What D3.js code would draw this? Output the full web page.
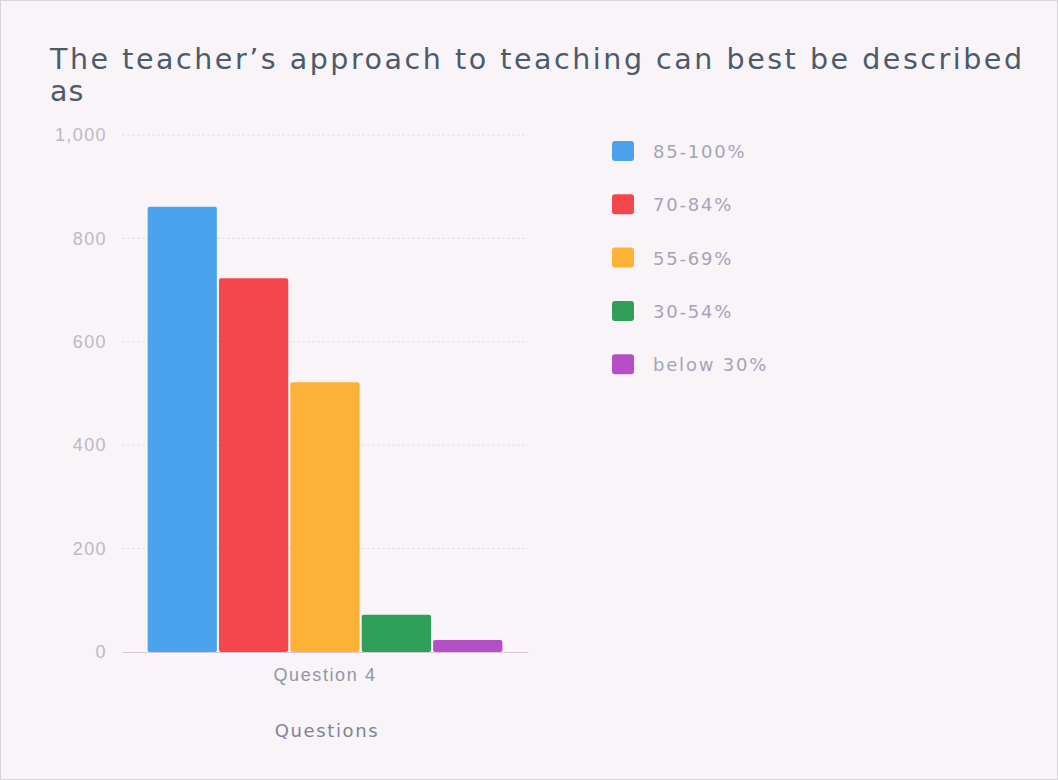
<!DOCTYPE html>
<html>
<head>
<meta charset="utf-8">
<script src="https://cdn.jsdelivr.net/npm/d3@7"></script>
<style>
  html, body { margin: 0; padding: 0; background: #f8f4f7; }
  svg { display: block; font-family: "DejaVu Sans", sans-serif; }
</style>
</head>
<body>
<div id="chart"></div>
<script>
const categories = ["Question 4"];
const seriesNames = ["85-100%", "70-84%", "55-69%", "30-54%", "below 30%"];
const seriesValues = [861, 723, 522, 72, 23];
const seriesColors = ["#4aa3ec", "#f4474d", "#fbb237", "#2f9f5a", "#b44fc6"];
const yTicks = [0, 200, 400, 600, 800, 1000];

const W = 1058, H = 780;
const margin = {top: 135, left: 122, right: 528, bottom: 652};

const svg = d3.select("#chart").append("svg")
  .attr("width", W).attr("height", H);

svg.append("rect")
  .attr("x", 0.5).attr("y", 0.5).attr("width", W - 1).attr("height", H - 1)
  .attr("fill", "#f8f4f7").attr("stroke", "#d9d4d8");

// title (two lines, as in the original)
svg.append("text")
  .attr("x", 50).attr("y", 69)
  .attr("fill", "#4d5a6c")
  .attr("textLength", 972).attr("lengthAdjust", "spacing")
  .style("font-size", "28.5px")
  .text("The teacher\u2019s approach to teaching can best be described");
svg.append("text")
  .attr("x", 50).attr("y", 101)
  .attr("fill", "#4d5a6c")
  .style("font-size", "28.5px")
  .style("letter-spacing", "1px")
  .text("as");

const y = d3.scaleLinear().domain([0, 1000]).range([margin.bottom, margin.top]);
const x0 = d3.scaleBand().domain(categories).range([margin.left, margin.right]).paddingInner(0.1).paddingOuter(0.065);
const x1 = d3.scaleBand().domain(seriesNames).range([0, x0.bandwidth()]).paddingInner(0.03);

// grid
svg.append("g")
  .selectAll("line")
  .data(yTicks.filter(d => d > 0))
  .join("line")
  .attr("x1", margin.left).attr("x2", margin.right)
  .attr("y1", d => y(d)).attr("y2", d => y(d))
  .attr("stroke", "#e4dfe4")
  .attr("stroke-dasharray", "3,2");

// y axis labels
const yAxis = svg.append("g")
  .attr("transform", `translate(${margin.left - 12},0)`)
  .call(d3.axisLeft(y).tickValues(yTicks).tickSize(0).tickFormat(d3.format(",")));
yAxis.select(".domain").remove();
yAxis.selectAll("text")
  .attr("fill", "#bdb9c4")
  .style("font-size", "18px")
  .style("letter-spacing", "1.4px");

// bars
svg.append("g")
  .selectAll("g")
  .data(categories)
  .join("g")
  .attr("transform", d => `translate(${x0(d)},0)`)
  .selectAll("rect")
  .data(() => seriesNames.map((s, i) => ({s, v: seriesValues[i], c: seriesColors[i]})))
  .join("rect")
  .attr("x", d => x1(d.s))
  .attr("y", d => y(d.v))
  .attr("width", x1.bandwidth())
  .attr("height", d => y(0) - y(d.v))
  .attr("rx", 2)
  .attr("fill", d => d.c);

// x axis
const xAxis = svg.append("g")
  .attr("transform", `translate(0,${margin.bottom})`)
  .call(d3.axisBottom(x0).tickSize(0).tickPadding(16));
xAxis.select(".domain").attr("stroke", "#d9c9d3");
xAxis.selectAll("text")
  .attr("fill", "#9296a8")
  .style("font-size", "18px")
  .style("letter-spacing", "1.6px");

svg.append("text")
  .attr("x", (margin.left + margin.right) / 2 + 2)
  .attr("y", 737)
  .attr("text-anchor", "middle")
  .attr("fill", "#7f8499")
  .style("font-size", "18px")
  .style("letter-spacing", "1.6px")
  .text("Questions");

// legend
const legend = svg.append("g")
  .selectAll("g")
  .data(seriesNames)
  .join("g")
  .attr("transform", (d, i) => `translate(612,${141 + i * 53.3})`);
legend.append("rect")
  .attr("width", 22).attr("height", 20).attr("rx", 3)
  .attr("fill", (d, i) => seriesColors[i]);
legend.append("text")
  .attr("x", 41).attr("y", 17)
  .attr("fill", "#a7a3b8")
  .style("font-size", "18px")
  .style("letter-spacing", "1.8px")
  .text(d => d);
</script>
</body>
</html>
